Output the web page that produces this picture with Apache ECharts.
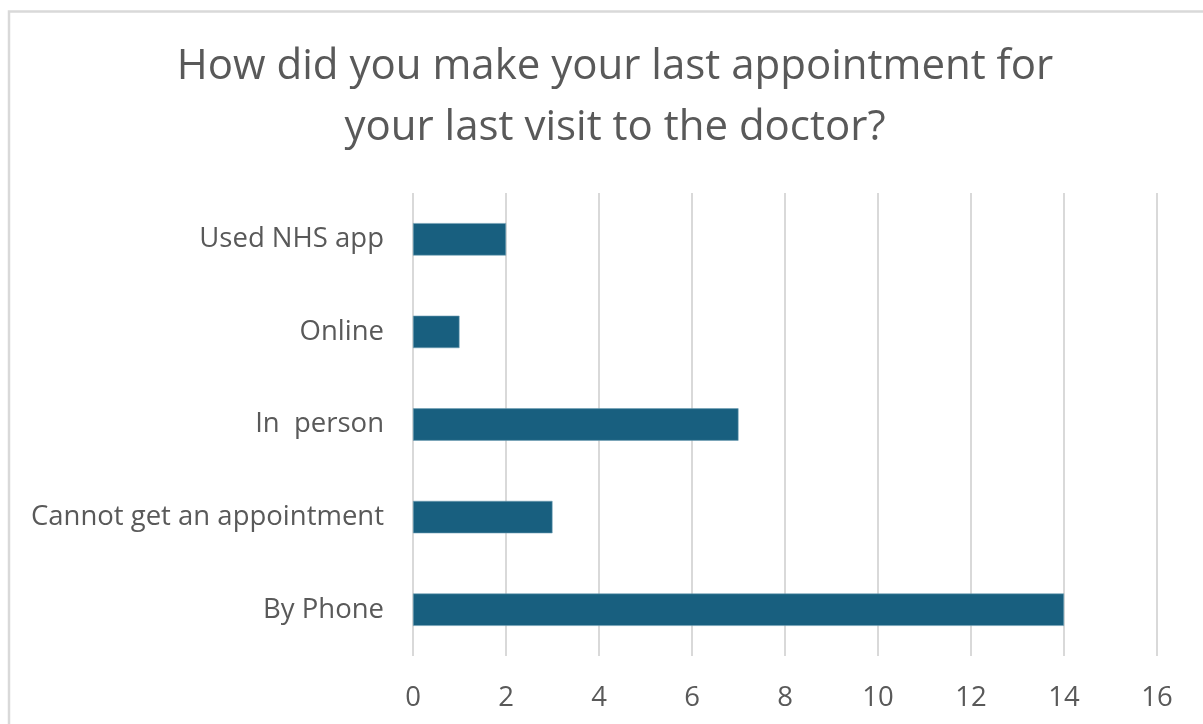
<!DOCTYPE html>
<html>
<head>
<meta charset="utf-8">
<title>Appointment methods</title>
<script src="https://cdn.jsdelivr.net/npm/echarts@6/dist/echarts.min.js"></script>
<style>
  html, body { margin: 0; padding: 0; background: #ffffff; }
  #chart { width: 1203px; height: 724px; }
</style>
</head>
<body>
<div id="chart"></div>
<script>
// Survey answers, listed bottom-to-top as they appear on the category axis
const categories = ['By Phone', 'Cannot get an appointment', 'In  person', 'Online', 'Used NHS app'];
const responses = [14, 3, 7, 1, 2];
const axisMax = 16;
const axisStep = 2;

const chartTitle = 'How did you make your last appointment for\nyour last visit to the doctor?';
const fontFamily = 'Open Sans, sans-serif';
const textColor = '#595959';

const chart = echarts.init(document.getElementById('chart'), null, { renderer: 'canvas' });

chart.setOption({
  backgroundColor: '#ffffff',
  animation: false,
  title: {
    text: chartTitle,
    left: 610,
    top: 32,
    textAlign: 'center',
    textStyle: {
      fontFamily: fontFamily,
      fontSize: 42,
      fontWeight: 'normal',
      color: textColor,
      lineHeight: 61
    }
  },
  grid: {
    left: 413,
    right: 46,
    top: 193,
    bottom: 68,
    containLabel: false
  },
  xAxis: {
    type: 'value',
    min: 0,
    max: axisMax,
    interval: axisStep,
    axisLine: { show: false },
    axisTick: { show: false },
    axisLabel: {
      margin: 28,
      fontFamily: fontFamily,
      fontSize: 27.5,
      color: textColor
    },
    splitLine: {
      show: true,
      lineStyle: { color: '#d9d9d9', width: 2 }
    }
  },
  yAxis: {
    type: 'category',
    data: categories,
    axisLine: { show: false },
    axisTick: { show: false },
    axisLabel: {
      margin: 29,
      fontFamily: fontFamily,
      fontSize: 27.5,
      color: textColor
    },
    splitLine: { show: false }
  },
  series: [{
    type: 'bar',
    data: responses,
    barWidth: '35%',
    itemStyle: {
      color: '#185f7f',
      borderColor: '#6f9fb5',
      borderWidth: 0.6
    }
  }],
  graphic: [
    {
      type: 'polyline',
      silent: true,
      shape: { points: [[9, 724], [9, 11.5], [1203, 11.5]] },
      style: { stroke: '#d9d9d9', lineWidth: 2.5, fill: null }
    }
  ]
});
</script>
</body>
</html>
